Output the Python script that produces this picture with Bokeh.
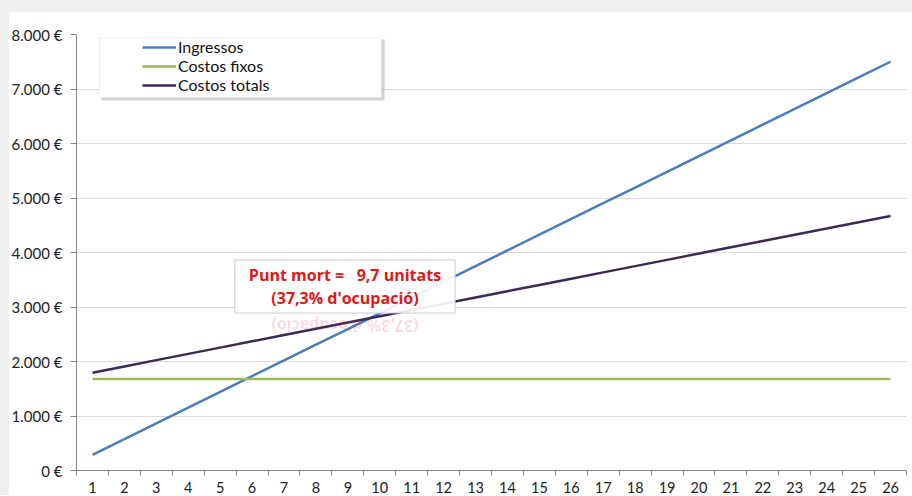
import math
from bokeh.plotting import figure
from bokeh.models import Range1d, FixedTicker, Legend, LegendItem, Label, BoxAnnotation
from bokeh.layouts import column
from bokeh.embed import file_html
from bokeh.resources import INLINE

# Unitats venudes (eix X)
unitats = [1, 2, 3, 4, 5, 6, 7, 8, 9, 10, 11, 12, 13,
           14, 15, 16, 17, 18, 19, 20, 21, 22, 23, 24, 25, 26]

# Sèries en euros
ingressos = [288, 577, 865, 1154, 1442, 1731, 2019, 2308, 2596, 2885,
             3173, 3462, 3750, 4038, 4327, 4615, 4904, 5192, 5481, 5769,
             6058, 6346, 6635, 6923, 7212, 7500]
costos_fixos = [1680, 1680, 1680, 1680, 1680, 1680, 1680, 1680, 1680, 1680,
                1680, 1680, 1680, 1680, 1680, 1680, 1680, 1680, 1680, 1680,
                1680, 1680, 1680, 1680, 1680, 1680]
costos_totals = [1795, 1910, 2025, 2140, 2255, 2370, 2485, 2600, 2715, 2830,
                 2945, 3060, 3175, 3290, 3405, 3520, 3635, 3750, 3865, 3980,
                 4095, 4210, 4325, 4440, 4555, 4670]

y_ticks = [0, 1000, 2000, 3000, 4000, 5000, 6000, 7000, 8000]
y_tick_labels = ["0 €", "1.000 €", "2.000 €", "3.000 €", "4.000 €",
                 "5.000 €", "6.000 €", "7.000 €", "8.000 €"]

punt_mort = 9.7        # unitats
ocupacio = 37.3        # % d'ocupació

FONT = "Lato"
AXIS_GREY = "#868686"

p = figure(
    frame_width=830, frame_height=436,
    x_range=Range1d(0.5, 26.5), y_range=Range1d(0, 8000),
    output_backend="svg", toolbar_location=None,
    min_border_left=68, min_border_right=6, min_border_top=23, min_border_bottom=10,
    background_fill_color="white", border_fill_color="white",
    outline_line_color=None,
)

r_ing = p.line(unitats, ingressos, line_color="#4a7ebb", line_width=2.5)
r_fix = p.line(unitats, costos_fixos, line_color="#98b954", line_width=2.5)
r_tot = p.line(unitats, costos_totals, line_color="#3b2a55", line_width=2.5)

# Eix Y
p.yaxis.ticker = FixedTicker(ticks=y_ticks, minor_ticks=[])
p.yaxis.major_label_overrides = {t: s for t, s in zip(y_ticks, y_tick_labels)}
p.yaxis.major_label_text_font = FONT
p.yaxis.major_label_text_font_size = "15px"
p.yaxis.major_label_text_color = "#222222"
p.yaxis.major_tick_out = 6
p.yaxis.major_tick_in = 0
p.yaxis.major_label_standoff = 8
p.yaxis.axis_line_color = AXIS_GREY
p.yaxis.major_tick_line_color = AXIS_GREY

# Eix X: etiquetes al centre, marques entre categories
p.xaxis.ticker = FixedTicker(ticks=unitats, minor_ticks=[u - 0.5 for u in unitats] + [26.5])
p.xaxis.major_label_text_font = FONT
p.xaxis.major_label_text_font_size = "14.5px"
p.xaxis.major_label_text_color = "#222222"
p.xaxis.major_tick_out = 0
p.xaxis.major_tick_in = 0
p.xaxis.minor_tick_out = 5
p.xaxis.minor_tick_in = 0
p.xaxis.major_label_standoff = 6
p.xaxis.axis_line_color = AXIS_GREY
p.xaxis.minor_tick_line_color = AXIS_GREY

p.xgrid.grid_line_color = None
p.ygrid.ticker = FixedTicker(ticks=y_ticks)
p.ygrid.grid_line_color = "#d9d9d9"

# Caixa de la llegenda amb ombra (unitats de pantalla)
p.add_layout(BoxAnnotation(left=25, right=308, top=431, bottom=370,
                           left_units="screen", right_units="screen",
                           top_units="screen", bottom_units="screen",
                           fill_color="#7f7f7f", fill_alpha=0.35, line_color=None,
                           level="overlay"))
p.add_layout(BoxAnnotation(left=23, right=305, top=433, bottom=373,
                           left_units="screen", right_units="screen",
                           top_units="screen", bottom_units="screen",
                           fill_color="white", fill_alpha=1, line_color="#d0d0d0",
                           line_width=1, level="overlay"))

legend = Legend(
    items=[LegendItem(label="Ingressos", renderers=[r_ing]),
           LegendItem(label="Costos fixos", renderers=[r_fix]),
           LegendItem(label="Costos totals", renderers=[r_tot])],
    location=(64, 374), glyph_width=34, glyph_height=18, label_height=18,
    label_standoff=2, spacing=0, padding=2, margin=0,
    label_text_font=FONT, label_text_font_size="16px", label_text_color="#111111",
    label_text_line_height=1.1,
    background_fill_alpha=0, border_line_alpha=0,
)
p.add_layout(legend)

# Punt mort
ocup_txt = "(" + f"{ocupacio:.1f}".replace(".", ",") + "% d'ocupació)"
txt = ("Punt mort =\u00a0\u00a0\u00a0" + f"{punt_mort:.1f}".replace(".", ",") + " unitats\n"
       + ocup_txt)
p.add_layout(Label(
    x=8.91, y=3376, text=txt, text_align="center", text_baseline="middle",
    text_font="Open Sans", text_font_size="16px", text_font_style="bold",
    text_color="#e01818", text_line_height=1.05,
    background_fill_color="white", background_fill_alpha=0.9,
    border_line_color="#cccccc", border_line_width=1,
    padding=dict(left=14, right=14, top=4, bottom=4),
))
# reflex esvaït sota la caixa
p.add_layout(Label(
    x=8.91, y=2660, text=ocup_txt,
    angle=math.pi, text_align="center", text_baseline="middle",
    text_font="Open Sans", text_font_size="16px", text_font_style="bold",
    text_color="#e01818", text_alpha=0.16,
))

layout = column(p, styles={"background-color": "#eeeeee", "padding-top": "11px",
                           "padding-left": "8px"})

open("out.html", "w").write(file_html(layout, INLINE))
